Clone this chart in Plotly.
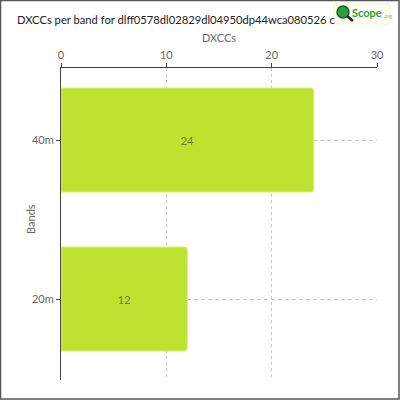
import plotly.graph_objects as go

bands = ["20m", "40m"]
dxccs = [12, 24]
x_ticks = [0, 10, 20, 30]

title_text = "DXCCs per band for dlff0578dl02829dl04950dp44wca080526 c"

W, H = 400, 400
L, R, T, B = 61, 23, 68, 20
PW, PH = W - L - R, H - T - B

def px(x):
    return (x - L) / PW

def py(y):
    return (H - B - y) / PH

fig = go.Figure()
fig.add_trace(go.Bar(
    y=bands, x=dxccs, orientation="h",
    text=[str(v) for v in dxccs],
    textposition="inside", insidetextanchor="middle",
    textfont=dict(family="Lato", size=11, color="#6b7d2a"),
    marker=dict(color="#bee22f", line=dict(color="#d8f27a", width=1)),
    width=0.654,
    hoverinfo="skip",
))

fig.update_layout(
    width=W, height=H,
    margin=dict(l=L, r=R, t=T, b=B),
    paper_bgcolor="white", plot_bgcolor="white",
    barcornerradius=3,
    showlegend=False,
    font=dict(family="Lato", color="#555"),
    title=dict(text=title_text, x=17 / W, xanchor="left", y=1 - 20 / H, yanchor="middle",
               font=dict(family="Lato", size=11.2, color="#222")),
    xaxis=dict(
        side="top", range=[0, 30], tickvals=x_ticks,
        showline=True, linecolor="#444", linewidth=1,
        ticks="outside", ticklen=4, tickcolor="#444",
        showgrid=True, gridcolor="#c4c4c4", griddash="3px,3px", gridwidth=1,
        zeroline=False,
        tickfont=dict(size=11, color="#666"),
        title=dict(text="DXCCs", font=dict(size=11, color="#666"), standoff=2),
    ),
    yaxis=dict(
        categoryorder="array", categoryarray=bands,
        range=[-0.509, 1.453],
        showline=True, linecolor="#444", linewidth=1,
        ticks="outside", ticklen=4, tickcolor="#444",
        showgrid=True, gridcolor="#c4c4c4", griddash="4px,3px", gridwidth=1,
        tickfont=dict(size=11, color="#666"),
        automargin=False,
    ),
    shapes=[
        dict(type="rect", xref="paper", yref="paper",
             x0=px(0.5), x1=px(399), y0=py(399), y1=py(0.5),
             line=dict(color="#555", width=1.5)),
        dict(type="rect", xref="paper", yref="paper",
             x0=px(334), x1=px(390), y0=py(24), y1=py(4),
             fillcolor="#fbfdf0", line=dict(color="#eef5d0", width=1), layer="above"),
        dict(type="circle", xref="paper", yref="paper",
             x0=px(337), x1=px(349), y0=py(18), y1=py(6),
             fillcolor="#2e9e3e", line=dict(color="#1a5c22", width=1.5), layer="above"),
        dict(type="line", xref="paper", yref="paper",
             x0=px(347), x1=px(353), y0=py(16), y1=py(21),
             line=dict(color="#222", width=2.5), layer="above"),
    ],
    annotations=[
        dict(text="Bands", xref="paper", yref="paper", x=px(31), y=py(219),
             xanchor="center", yanchor="middle", showarrow=False, textangle=-90,
             font=dict(family="Lato", size=11, color="#666")),
        dict(text="Scope", xref="paper", yref="paper", x=px(350), y=py(13),
             xanchor="left", yanchor="middle", showarrow=False,
             font=dict(family="Lato", size=11, color="#2e9e3e", weight="bold")),
        dict(text=".org", xref="paper", yref="paper", x=px(381), y=py(16),
             xanchor="left", yanchor="middle", showarrow=False,
             font=dict(family="Lato", size=5.5, color="#8bc48f")),
    ],
)

fig.write_html("out.html", config={"displayModeBar": False},
               post_script="document.body.style.margin='0';document.body.style.overflow='hidden';")
